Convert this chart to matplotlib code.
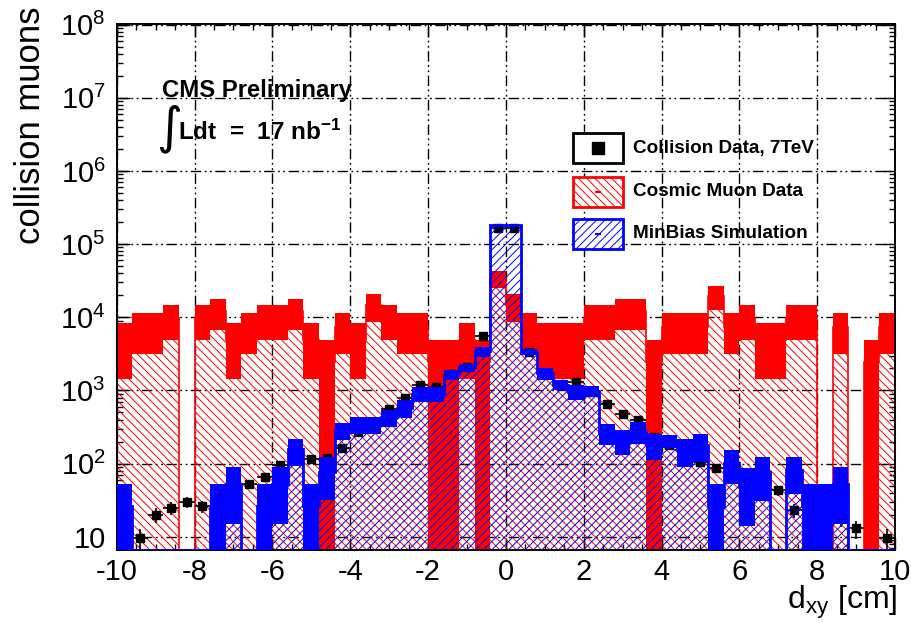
import numpy as np
import matplotlib
matplotlib.use("Agg")
import matplotlib.pyplot as plt
from matplotlib.patches import Rectangle
from matplotlib.lines import Line2D
from matplotlib.ticker import FixedLocator, FixedFormatter, LogLocator, NullFormatter

plt.rcParams["font.family"] = ["Liberation Sans", "DejaVu Sans"]
plt.rcParams["mathtext.fontset"] = "custom"
plt.rcParams["mathtext.rm"] = "Liberation Sans"
plt.rcParams["mathtext.it"] = "Liberation Sans:italic"
plt.rcParams["mathtext.bf"] = "Liberation Sans:bold"
plt.rcParams["hatch.linewidth"] = 0.7

# ---------------- data ----------------
# transverse impact parameter binning [cm]
bin_edges = np.linspace(-10, 10, 51)

# collision data, 7 TeV (muons per bin)
collision_data = np.array([
    0, 9.5, 20, 25, 30, 26, 35, 45, 52, 65,
    95, 137, 115, 120, 161, 270, 330, 560, 780, 1200,
    1100, 1700, 2100, 5500, 165000, 165000, 3400, 1700, 1200, 1310,
    950, 650, 474, 400, 230, 180, 140, 106, 86, 70,
    55, 50, 43, 23, 20, 15, 18, 13, 0, 9.5])

# cosmic muon data: raw events per bin and normalisation to collision data
cosmic_events = np.array([
    2, 3, 3, 4, 0, 4, 5, 2, 3, 4,
    4, 5, 2, 1, 3, 2, 6, 4, 3, 3,
    1, 1, 2, 1, 14, 6, 3, 2, 2, 2,
    4, 4, 5, 5, 1, 3, 3, 3, 8, 3,
    4, 2, 2, 4, 4, 0, 3, 0, 1, 3])
cosmic_norm = 2450.0

# MinBias simulation, normalised, with its statistical uncertainty
minbias_counts = np.array([
    26, 0, 0, 0, 0, 0, 26, 52, 0, 26,
    52, 156, 26, 78, 285, 346, 346, 428, 575, 908,
    908, 1636, 2065, 3409, 180000, 180000, 3390, 1732, 1195, 958,
    980, 266, 209, 280, 185, 203, 155, 182, 26, 103,
    50, 77, 0, 81, 26, 26, 52, 0, 0, 0])
minbias_err = np.array([
    26, 0, 0, 0, 0, 0, 26, 37, 0, 26,
    37, 64, 26, 46, 76, 88, 88, 110, 161, 210,
    210, 255, 270, 532, 2200, 2200, 354, 323, 186, 222,
    162, 87, 78, 92, 73, 42, 65, 76, 26, 50,
    36, 46, 0, 42, 26, 26, 37, 0, 0, 0])

x_ticks = [-10, -8, -6, -4, -2, 0, 2, 4, 6, 8, 10]
x_tick_labels = ["-10", "-8", "-6", "-4", "-2", "0", "2", "4", "6", "8", "10"]
y_ticks = [1e1, 1e2, 1e3, 1e4, 1e5, 1e6, 1e7, 1e8]
y_tick_labels = ["10", r"$10^{2}$", r"$10^{3}$", r"$10^{4}$",
                 r"$10^{5}$", r"$10^{6}$", r"$10^{7}$", r"$10^{8}$"]
legend_labels = ["Collision Data, 7TeV", "Cosmic Muon Data", "MinBias Simulation"]

# ---------------- figure ----------------
W, H = 912, 623
fig = plt.figure(figsize=(W / 100, H / 100), dpi=100)
ax = fig.add_axes([116.7 / W, 1 - 550 / H, (895 - 116.7) / W, (550 - 24) / H])
ax.set_yscale("log")
y_min, y_max = 6.6, 1.02e8
ax.set_xlim(-10, 10)
ax.set_ylim(y_min, y_max)

centers = 0.5 * (bin_edges[:-1] + bin_edges[1:])
widths = np.diff(bin_edges)
floor = 1.0  # below the visible range, stands in for zero on the log axis

RED = "#ff0000"
BLUE = "#0000ff"

# cosmic muons: hatched histogram, outline, statistical band
cosmic = cosmic_events * cosmic_norm
cosmic_err = np.sqrt(cosmic_events) * cosmic_norm
has_c = cosmic > 0
ax.bar(centers[has_c], cosmic[has_c] - floor, width=widths[has_c], bottom=floor,
       facecolor="none", edgecolor=RED, hatch="\\\\\\\\", linewidth=0, zorder=1)
ax.stairs(np.clip(cosmic, floor, None), bin_edges, baseline=None,
          color=RED, linewidth=1.2, zorder=1.5)
c_lo = np.maximum(cosmic - cosmic_err, floor)
c_hi = cosmic + cosmic_err
ax.bar(centers[has_c], (c_hi - c_lo)[has_c], width=widths[has_c], bottom=c_lo[has_c],
       color=RED, linewidth=0, zorder=2)

# collision data points
has_d = collision_data > 0
ax.errorbar(centers[has_d], collision_data[has_d],
            yerr=np.sqrt(collision_data[has_d]), xerr=widths[has_d] / 2,
            fmt="s", color="black", markersize=5.5, linewidth=1.2,
            capsize=0, zorder=3)

# MinBias simulation: hatched histogram, statistical band, outline
has_m = minbias_counts > 0
ax.bar(centers[has_m], minbias_counts[has_m] - floor, width=widths[has_m], bottom=floor,
       facecolor="none", edgecolor=BLUE, hatch="////", linewidth=0, zorder=4)
m_lo = np.maximum(minbias_counts - minbias_err, floor)
m_hi = minbias_counts + minbias_err
ax.bar(centers[has_m], (m_hi - m_lo)[has_m], width=widths[has_m], bottom=m_lo[has_m],
       color=BLUE, linewidth=0, zorder=5)
ax.stairs(np.clip(minbias_counts, y_min, None), bin_edges, baseline=None,
          color=BLUE, linewidth=2.0, zorder=6)

# axes, ticks and grid
ax.set_axisbelow(True)
grid_style = (0, (7.5, 2.5, 1.3, 2.5, 1.3, 2.5))
ax.grid(True, which="major", color="black", linewidth=1.0, linestyle=grid_style)
ax.xaxis.set_major_locator(FixedLocator(x_ticks))
ax.xaxis.set_major_formatter(FixedFormatter(x_tick_labels))
ax.xaxis.set_minor_locator(FixedLocator(np.arange(-10, 10.01, 0.5)))
ax.yaxis.set_major_locator(FixedLocator(y_ticks))
ax.yaxis.set_major_formatter(FixedFormatter(y_tick_labels))
ax.yaxis.set_minor_locator(LogLocator(base=10, subs=np.arange(2, 10), numticks=20))
ax.yaxis.set_minor_formatter(NullFormatter())
ax.tick_params(which="both", direction="in", top=True, right=True,
               width=1.0, colors="black", labelsize=21)
ax.tick_params(which="major", length=9)
ax.tick_params(which="minor", length=4.5)
ax.tick_params(axis="x", which="major", pad=5.5)
ax.tick_params(axis="y", which="major", pad=8)
for s in ax.spines.values():
    s.set_linewidth(1.4)

# axis titles
fig.text(31 / W, 1 - 6 / H, "collision muons", rotation=90,
         ha="center", va="top", fontsize=25)
fig.text(897 / W, 1 - 609 / H, r"d$_{\mathrm{xy}}$ [cm]",
         ha="right", va="baseline", fontsize=23)

# annotations
fig.text(162 / W, 1 - 97 / H, "CMS Preliminary", fontsize=17.2,
         fontweight="bold", ha="left", va="baseline")
fig.text(169 / W, 1 - 129 / H, "\u222b", fontsize=36, ha="center",
         va="center", family=["DejaVu Sans"])
fig.text(178 / W, 1 - 140 / H, r"Ldt  =  17 nb$^{\mathbf{-1}}$", fontsize=17.5,
         fontweight="bold", ha="left", va="baseline")

# legend
rows = [148, 191.5, 234]
box_w, box_h = 50.6, 30
box_x = 572.7
styles = [
    dict(fc="white", ec="black", hatch=None),
    dict(fc="white", ec=RED, hatch="\\\\\\\\"),
    dict(fc="white", ec=BLUE, hatch="////"),
]
for yc, label, st in zip(rows, legend_labels, styles):
    rect = Rectangle((box_x / W, 1 - (yc + box_h / 2) / H), box_w / W, box_h / H,
                     transform=fig.transFigure, facecolor=st["fc"],
                     edgecolor=st["ec"], hatch=st["hatch"], linewidth=2.0)
    fig.patches.append(rect)
    fig.text(633 / W, 1 - yc / H, label, fontsize=13.6, fontweight="bold",
             ha="left", va="center")
xc = (box_x + box_w / 2) / W
fig.lines.append(Line2D([xc], [1 - rows[0] / H], marker="s", markersize=8,
                        color="black", transform=fig.transFigure))
for yc, col in zip(rows[1:], [RED, BLUE]):
    fig.lines.append(Line2D([xc - 1.5 / W, xc + 1.5 / W], [1 - yc / H] * 2,
                            color=col, linewidth=1.5, transform=fig.transFigure))

fig.savefig("out.png", dpi=100)
